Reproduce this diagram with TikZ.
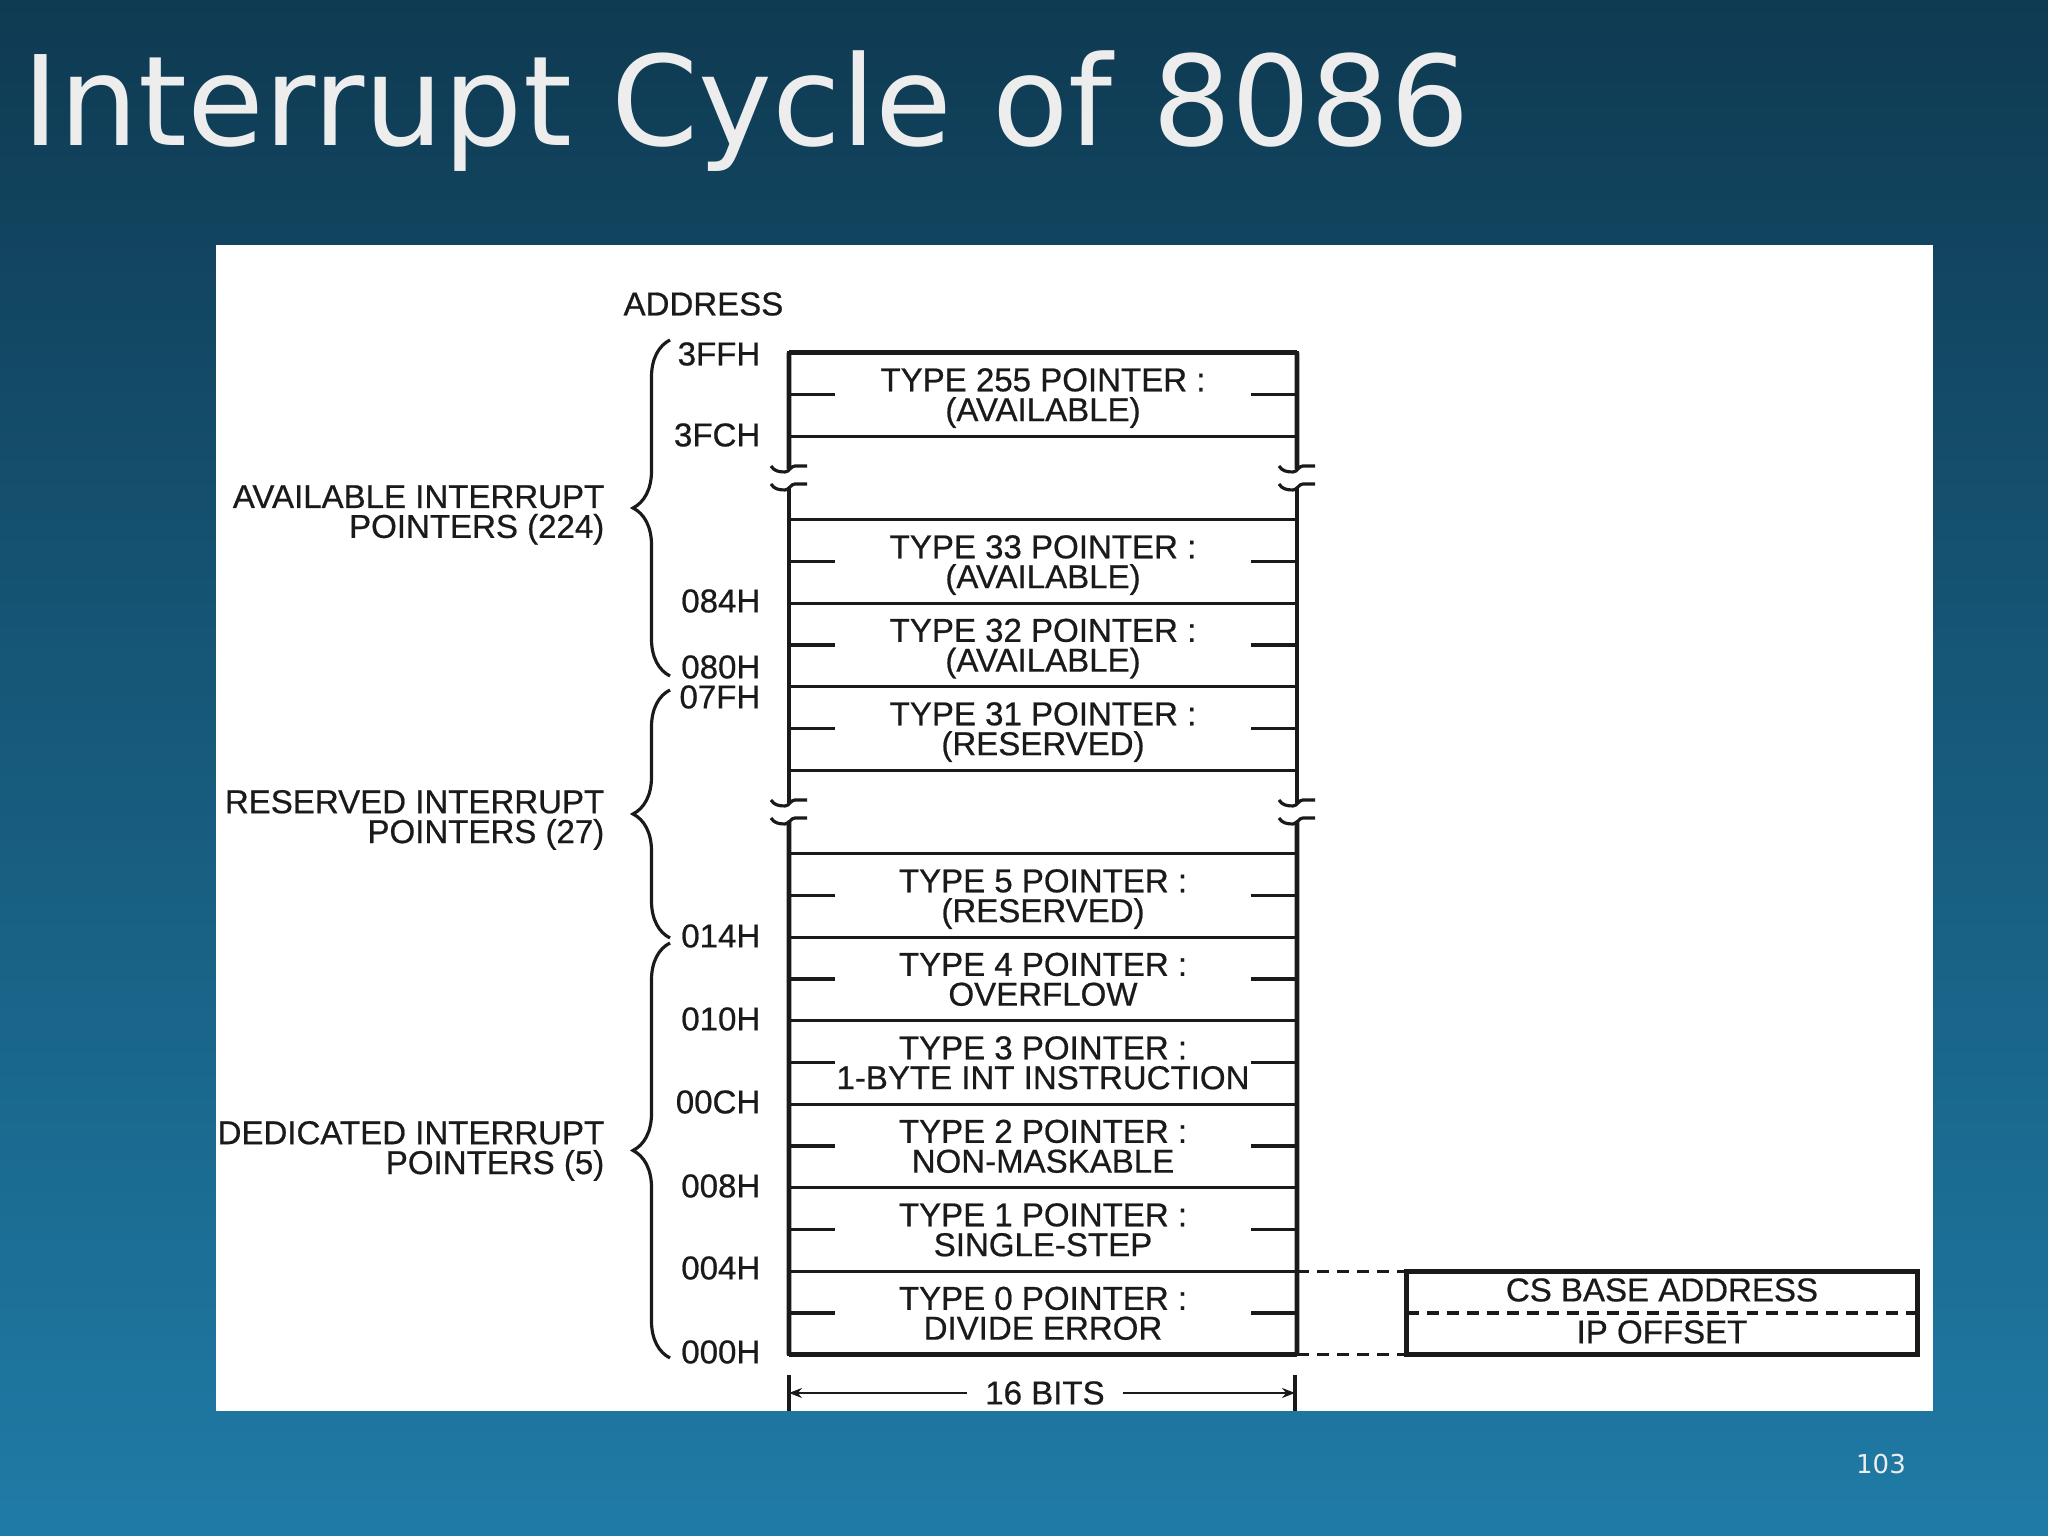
\documentclass[tikz,border=0pt]{standalone}
\usepackage{fontspec}
\setmainfont{Liberation Sans}[FakeBold=0.6]
\newfontfamily\titlefont{DejaVu Sans}
\usetikzlibrary{decorations.pathreplacing,arrows.meta}

\definecolor{bgtop}{HTML}{0F3A52}
\definecolor{bgbot}{HTML}{1F7BA6}
\definecolor{titlegray}{HTML}{EDEDED}
\definecolor{ink}{HTML}{1A1A1A}

\newcommand{\tabfont}{\fontsize{9.4}{8.5}\selectfont}

\tikzstyle{cell} = [draw=ink, line width=0.9pt, minimum width=5.08cm, minimum height=0.835cm, inner sep=0pt, outer sep=0pt, align=center, font=\tabfont, text=ink, text height=15.2pt, text depth=0pt]
\tikzstyle{gap} = [minimum width=5.08cm, minimum height=0.835cm, inner sep=0pt, outer sep=0pt]
\tikzstyle{addr} = [anchor=east, inner sep=0pt, font=\tabfont, text=ink]
\tikzstyle{group} = [anchor=east, inner sep=0pt, align=right, font=\tabfont, text=ink]

\begin{document}
\begin{tikzpicture}
\tikzstyle{border} = [ink, line width=1.4pt]
\tikzstyle{stub} = [ink, line width=0.9pt]
\tikzstyle{brk} = [ink, line width=0.9pt]
\tikzstyle{grpbrace} = [ink, line width=0.9pt, decorate, decoration={brace, amplitude=0.37cm}]
\tikzstyle{link} = [ink, line width=0.9pt, dash pattern=on 0.12cm off 0.08cm]
\useasboundingbox (0,0) rectangle (20.48,15.36);
\shade[top color=bgtop, bottom color=bgbot] (0,0) rectangle (20.48,15.36);
\fill[white] (2.155,1.254) rectangle (19.33,12.905);
\node[anchor=base west, inner sep=0pt, text=titlegray, font=\titlefont\fontsize{35.5}{40}\selectfont] (title) at (0.22,13.90) {Interrupt Cycle of 8086};
\node[anchor=base, inner sep=0pt, text=titlegray, font=\titlefont\fontsize{7.4}{9}\selectfont] (pageno) at (18.81,0.62) {103};
% vector table
\node[cell] (t255) at (10.43,11.4155) {TYPE 255 POINTER :\\(AVAILABLE)};
\node[gap] (gapA) at (10.43,10.5805) {};
\node[cell] (t33) at (10.43,9.7455) {TYPE 33 POINTER :\\(AVAILABLE)};
\node[cell] (t32) at (10.43,8.9105) {TYPE 32 POINTER :\\(AVAILABLE)};
\node[cell] (t31) at (10.43,8.0755) {TYPE 31 POINTER :\\(RESERVED)};
\node[gap] (gapB) at (10.43,7.2405) {};
\node[cell] (t5) at (10.43,6.4055) {TYPE 5 POINTER :\\(RESERVED)};
\node[cell] (t4) at (10.43,5.5705) {TYPE 4 POINTER :\\OVERFLOW};
\node[cell] (t3) at (10.43,4.7355) {TYPE 3 POINTER :\\1-BYTE INT INSTRUCTION};
\node[cell] (t2) at (10.43,3.9005) {TYPE 2 POINTER :\\NON-MASKABLE};
\node[cell] (t1) at (10.43,3.0655) {TYPE 1 POINTER :\\SINGLE-STEP};
\node[cell] (t0) at (10.43,2.2305) {TYPE 0 POINTER :\\DIVIDE ERROR};
\foreach \c in {t255,t33,t32,t31,t5,t4,t3,t2,t1,t0}{
    \draw[stub] (\c.west) -- ++(0.46,0);
    \draw[stub] (\c.east) -- ++(-0.46,0);
}
\coordinate (lbrkA1) at (7.89,10.67);
\coordinate (lbrkA2) at (7.89,10.49);
\coordinate (lbrkB1) at (7.89,7.33);
\coordinate (lbrkB2) at (7.89,7.15);
\coordinate (rbrkA1) at (12.97,10.67);
\coordinate (rbrkA2) at (12.97,10.49);
\coordinate (rbrkB1) at (12.97,7.33);
\coordinate (rbrkB2) at (12.97,7.15);
\draw[border] (t255.north west) -- (t255.north east);
\draw[border] (t0.south west) -- (t0.south east);
\draw[border] (t255.north west) -- (lbrkA1);
\draw[border] (lbrkA2) -- (lbrkB1);
\draw[border] (lbrkB2) -- (t0.south west);
\draw[border] (t255.north east) -- (rbrkA1);
\draw[border] (rbrkA2) -- (rbrkB1);
\draw[border] (rbrkB2) -- (t0.south east);
\foreach \Point in {(lbrkA1), (lbrkA2), (lbrkB1), (lbrkB2), (rbrkA1), (rbrkA2), (rbrkB1), (rbrkB2)}{
    \draw[brk] \Point ++(-0.18,0.03) to[out=-60,in=180] ++(0.14,-0.06) to[out=0,in=180] ++(0.10,0.06) -- ++(0.12,0);
}
% addresses
\node[addr] (address) at (7.84,12.32) {ADDRESS};
\node[addr] (a3FF) at (7.61,11.82) {3FFH};
\node[addr] (a3FC) at (7.61,11.01) {3FCH};
\node[addr] (a084) at (7.61,9.35) {084H};
\node[addr] (a080) at (7.61,8.69) {080H};
\node[addr] (a07F) at (7.61,8.39) {07FH};
\node[addr] (a014) at (7.61,6.00) {014H};
\node[addr] (a010) at (7.61,5.17) {010H};
\node[addr] (a00C) at (7.61,4.34) {00CH};
\node[addr] (a008) at (7.61,3.50) {008H};
\node[addr] (a004) at (7.61,2.68) {004H};
\node[addr] (a000) at (7.61,1.84) {000H};
% groups
\draw[grpbrace] (6.70,8.60) -- (6.70,11.96);
\draw[grpbrace] (6.70,5.98) -- (6.70,8.46);
\draw[grpbrace] (6.70,1.78) -- (6.70,5.93);
\node[group] (avail) at (6.05,10.21) {AVAILABLE INTERRUPT\\POINTERS (224)};
\node[group] (resv) at (6.05,7.16) {RESERVED INTERRUPT\\POINTERS (27)};
\node[group] (dedic) at (6.05,3.85) {DEDICATED INTERRUPT\\POINTERS (5)};
% type 0 vector
\node[cell, line width=1.4pt, minimum width=5.11cm] (csbox) at (16.62,2.2305) {};
\draw[link, line width=1.1pt] (csbox.west) -- (csbox.east);
\node[addr, anchor=center] (csbase) at (16.62,2.46) {CS BASE ADDRESS};
\node[addr, anchor=center] (ipoff) at (16.62,2.04) {IP OFFSET};
\draw[link] (t0.north east) -- (csbox.north west);
\draw[link] (t0.south east) -- (csbox.south west);
% width
\coordinate (bitsL) at (7.89,1.43);
\coordinate (bitsR) at (12.95,1.43);
\draw[stub] (bitsL) ++(0,0.18) -- ++(0,-0.356);
\draw[stub] (bitsR) ++(0,0.18) -- ++(0,-0.356);
\node[inner xsep=0.18cm, inner ysep=0pt, font=\tabfont, text=ink] (bits) at (10.45,1.43) {16 BITS};
\draw[ink, line width=0.6pt, -{Stealth[length=1.3mm,width=1mm]}] (bits) -- (bitsL);
\draw[ink, line width=0.6pt, -{Stealth[length=1.3mm,width=1mm]}] (bits) -- (bitsR);
\end{tikzpicture}
\end{document}
